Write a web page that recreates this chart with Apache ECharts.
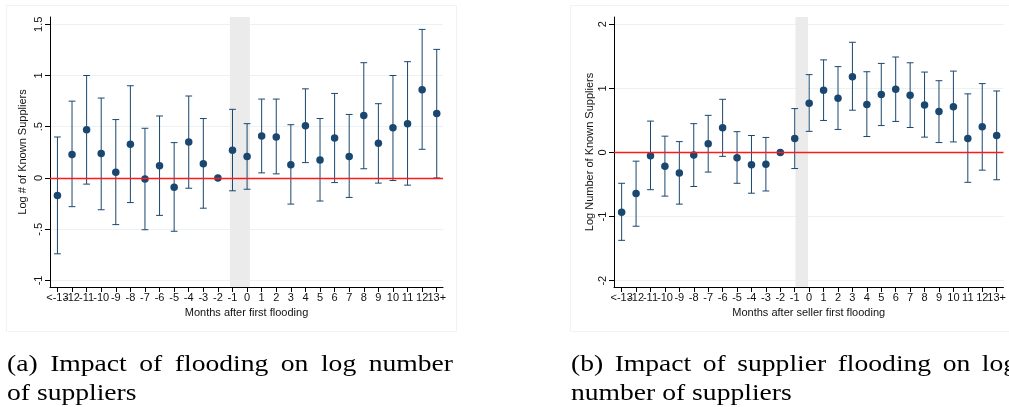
<!DOCTYPE html>
<html>
<head>
<meta charset="utf-8">
<script src="https://cdn.jsdelivr.net/npm/echarts@6/dist/echarts.min.js"></script>
<style>
  html, body { margin: 0; padding: 0; background: #fff; }
  #chart { width: 1009px; height: 407px; }
</style>
</head>
<body>
<div id="chart"></div>
<script>
// Event-time categories (months relative to first flooding)
const months = ['<-13','-12','-11','-10','-9','-8','-7','-6','-5','-4','-3','-2','-1',
                '0','1','2','3','4','5','6','7','8','9','10','11','12','13+'];

// Panel (a): log # of known suppliers — point estimates and 95% CI bounds
const coefA = [-0.17, 0.23, 0.47, 0.24, 0.055, 0.33, -0.01, 0.12, -0.09, 0.35, 0.14, 0,
               0.27, 0.21, 0.41, 0.40, 0.13, 0.51, 0.175, 0.39, 0.21, 0.61, 0.34, 0.49, 0.53, 0.86, 0.63];
const lowA  = [-0.74, -0.28, -0.06, -0.31, -0.455, -0.24, -0.505, -0.365, -0.52, -0.10, -0.295, null,
               -0.125, -0.11, 0.05, 0.04, -0.255, 0.15, -0.225, -0.045, -0.19, 0.09, -0.05, -0.025, -0.07, 0.28, 0.0];
const highA = [0.40, 0.75, 1.0, 0.78, 0.57, 0.90, 0.485, 0.605, 0.345, 0.80, 0.58, null,
               0.67, 0.53, 0.77, 0.77, 0.52, 0.87, 0.58, 0.825, 0.62, 1.125, 0.725, 1.0, 1.135, 1.45, 1.255];

// Panel (b): log number of known suppliers after seller's supplier is flooded
const coefB = [-0.93, -0.64, -0.05, -0.215, -0.32, -0.04, 0.135, 0.385, -0.08, -0.19, -0.185, 0,
               0.22, 0.77, 0.97, 0.845, 1.18, 0.75, 0.905, 0.985, 0.895, 0.74, 0.64, 0.715, 0.22, 0.40, 0.265];
const lowB  = [-1.37, -1.15, -0.58, -0.68, -0.805, -0.53, -0.305, -0.06, -0.48, -0.635, -0.60, null,
               -0.25, 0.33, 0.50, 0.36, 0.66, 0.25, 0.42, 0.485, 0.39, 0.24, 0.155, 0.165, -0.465, -0.275, -0.425];
const highB = [-0.48, -0.135, 0.49, 0.255, 0.17, 0.45, 0.58, 0.83, 0.325, 0.265, 0.235, null,
               0.685, 1.215, 1.445, 1.34, 1.72, 1.26, 1.39, 1.49, 1.40, 1.255, 1.12, 1.27, 0.915, 1.075, 0.96];

// Axis ticks
const yTicksA = [-1, -0.5, 0, 0.5, 1, 1.5];
const yTicksB = [-2, -1, 0, 1, 2];

// Shaded window around the flooding month (in category-index units)
const bandA = [11.82, 13.19];
const bandB = [12.05, 12.92];

const NAVY = '#1a476f';
const SANS = '"Liberation Sans", Arial, sans-serif';
const SERIF = '"Liberation Serif", "Times New Roman", serif';

// Month labels are split over two label axes (even / odd positions) so that
// the tightly packed labels are all drawn instead of being thinned out.
const catIndex = months.map((_, i) => i);
const evenIndex = catIndex.filter(i => i % 2 === 0);
const oddIndex = catIndex.filter(i => i % 2 === 1);
const stataNum = v => String(v).replace(/^(-?)0\./, '$1.');

const xLabelBase = {
  margin: 5, fontSize: 11, color: '#111', fontFamily: SANS,
  formatter: v => months[Math.round(v)], hideOverlap: false,
  showMinLabel: true, showMaxLabel: true
};

function xAxisFor(gridIndex, min, max, title) {
  return {
    type: 'value', gridIndex, min, max, position: 'bottom',
    axisLine: { show: true, onZero: false, lineStyle: { color: '#000', width: 1 } },
    axisTick: { show: true, customValues: catIndex, length: 5, lineStyle: { color: '#000' } },
    axisLabel: Object.assign({ customValues: evenIndex }, xLabelBase),
    splitLine: { show: false },
    name: title, nameLocation: 'middle', nameGap: 20,
    nameTextStyle: { fontSize: 11, color: '#111', fontFamily: SANS }
  };
}

function xOddAxisFor(gridIndex, min, max) {
  return {
    type: 'value', gridIndex, min, max, position: 'bottom',
    axisLine: { show: false, onZero: false },
    axisTick: { show: false },
    axisLabel: Object.assign({ customValues: oddIndex }, xLabelBase),
    splitLine: { show: false }
  };
}

function yAxisFor(gridIndex, min, max, ticks, title, gap) {
  return {
    type: 'value', gridIndex, min, max,
    axisLine: { show: true, onZero: false, lineStyle: { color: '#000', width: 1 } },
    axisTick: { show: true, customValues: ticks, length: 5, lineStyle: { color: '#000' } },
    axisLabel: {
      customValues: ticks, rotate: 90, margin: 6, fontSize: 11, color: '#111',
      fontFamily: SANS, formatter: stataNum, showMinLabel: true, showMaxLabel: true
    },
    splitLine: { show: true, lineStyle: { color: '#eaf2f3', width: 1 } },
    name: title, nameLocation: 'middle', nameGap: gap, nameRotate: 90,
    nameTextStyle: { fontSize: 11, color: '#111', fontFamily: SANS }
  };
}

// Range caps drawn as a custom series: vertical whisker + short horizontal caps
function capSeries(axisIdx, low, high) {
  const data = [];
  low.forEach((lo, i) => { if (lo !== null) data.push([i, lo, high[i]]); });
  return {
    type: 'custom', xAxisIndex: axisIdx, yAxisIndex: axisIdx, z: 3,
    data,
    encode: { x: 0, y: [1, 2] },
    renderItem(params, api) {
      const x = api.value(0);
      const pLo = api.coord([x, api.value(1)]);
      const pHi = api.coord([x, api.value(2)]);
      const hw = 3.4;
      const style = { stroke: NAVY, lineWidth: 1, fill: null };
      return {
        type: 'group',
        children: [
          { type: 'line', shape: { x1: pLo[0], y1: pLo[1], x2: pHi[0], y2: pHi[1] }, style },
          { type: 'line', shape: { x1: pLo[0] - hw, y1: pLo[1], x2: pLo[0] + hw, y2: pLo[1] }, style },
          { type: 'line', shape: { x1: pHi[0] - hw, y1: pHi[1], x2: pHi[0] + hw, y2: pHi[1] }, style }
        ]
      };
    }
  };
}

function pointSeries(axisIdx, coef) {
  return {
    type: 'scatter', xAxisIndex: axisIdx, yAxisIndex: axisIdx, z: 4,
    symbol: 'circle', symbolSize: 7.5,
    itemStyle: { color: NAVY, opacity: 1 },
    data: coef.map((v, i) => [i, v]),
    silent: true
  };
}

// Background layer: shaded window and red zero reference line
function refSeries(axisIdx, band) {
  return {
    type: 'line', xAxisIndex: axisIdx, yAxisIndex: axisIdx, z: 1, data: [], silent: true,
    markArea: {
      silent: true,
      itemStyle: { color: '#ebebeb' },
      data: [[{ xAxis: band[0] }, { xAxis: band[1] }]]
    },
    markLine: {
      silent: true, symbol: 'none', label: { show: false },
      lineStyle: { color: '#ff1a1a', width: 1.3, type: 'solid' },
      data: [{ yAxis: 0 }]
    }
  };
}

// Justified caption lines, laid out word by word
const CAP_SIZE = 23, CAP_SCALE = 1.2;
const measureCtx = document.createElement('canvas').getContext('2d');
measureCtx.font = CAP_SIZE + 'px ' + SERIF;
function captionLine(text, x0, baseline, justifyWidth) {
  const words = text.split(' ');
  const widths = words.map(w => measureCtx.measureText(w).width * CAP_SCALE);
  const total = widths.reduce((a, b) => a + b, 0);
  const space = justifyWidth
    ? (justifyWidth - total) / (words.length - 1)
    : measureCtx.measureText(' ').width * CAP_SCALE;
  let x = x0;
  return words.map((w, i) => {
    const el = {
      type: 'text', x, y: baseline, scaleX: CAP_SCALE,
      style: { text: w, font: CAP_SIZE + 'px ' + SERIF, fill: '#000', verticalAlign: 'bottom' }
    };
    x += widths[i] + space;
    return el;
  });
}

const option = {
  animation: false,
  backgroundColor: '#fff',
  grid: [
    { left: 50, top: 17, width: 393, height: 270 },
    { left: 614, top: 17, width: 394, height: 270 }
  ],
  xAxis: [
    xAxisFor(0, -0.51, 26.43, 'Months after first flooding'),
    xAxisFor(1, -0.53, 26.47, 'Months after seller first flooding'),
    xOddAxisFor(0, -0.51, 26.43),
    xOddAxisFor(1, -0.53, 26.47)
  ],
  yAxis: [
    yAxisFor(0, -1.064, 1.571, yTicksA, 'Log # of Known Suppliers', 22),
    yAxisFor(1, -2.098, 2.114, yTicksB, 'Log Number of Known Suppliers', 19)
  ],
  series: [
    refSeries(0, bandA), capSeries(0, lowA, highA), pointSeries(0, coefA),
    refSeries(1, bandB), capSeries(1, lowB, highB), pointSeries(1, coefB)
  ],
  graphic: [
    { type: 'rect', silent: true, z: -1, shape: { x: 6.5, y: 5.5, width: 450, height: 326 },
      style: { fill: null, stroke: '#eef3f4', lineWidth: 1 } },
    { type: 'rect', silent: true, z: -1, shape: { x: 570.5, y: 5.5, width: 460, height: 326 },
      style: { fill: null, stroke: '#eef3f4', lineWidth: 1 } },
    ...captionLine('(a) Impact of flooding on log number', 7, 376, 446),
    ...captionLine('of suppliers', 7, 405),
    ...captionLine('(b) Impact of supplier flooding on log', 571, 376, 446),
    ...captionLine('number of suppliers', 571, 405)
  ]
};

const chart = echarts.init(document.getElementById('chart'), null, { renderer: 'canvas' });
chart.setOption(option);
</script>
</body>
</html>
